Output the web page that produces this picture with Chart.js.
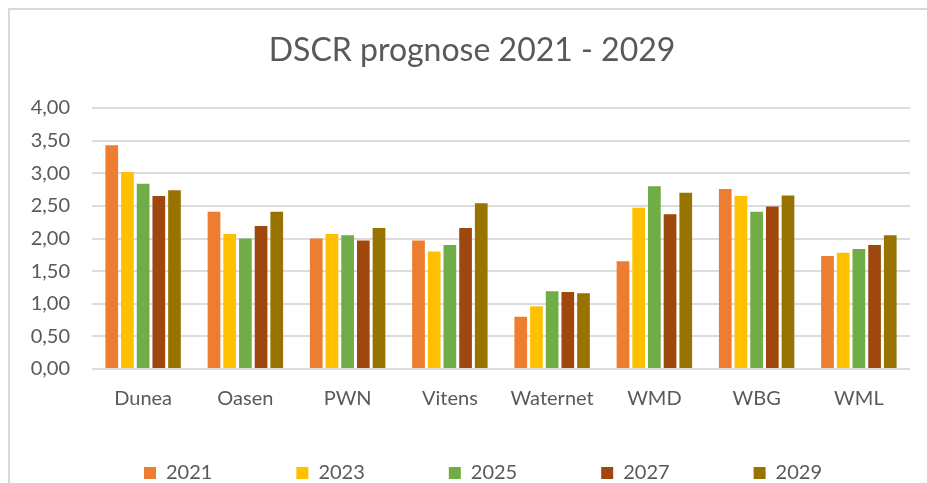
<!doctype html>
<html lang="nl">
  <head>
    <meta charset="utf-8">
    <title>DSCR prognose 2021 - 2029</title>
    <script src="https://cdn.jsdelivr.net/npm/chart.js"></script>
    <style>
      body { margin: 0; background: #fff; }
      #frame {
        position: absolute; left: 8px; top: 8px; width: 940px; height: 500px;
        border-left: 2px solid #d9d9d9; border-top: 2px solid #d9d9d9;
      }
      #wrap { position: absolute; left: 0; top: 0; width: 927px; height: 483px; }
    </style>
  </head>
  <body>
    <div id="frame"></div>
    <div id="wrap"><canvas id="chart"></canvas></div>

    <script>
      const categories = ['Dunea', 'Oasen', 'PWN', 'Vitens', 'Waternet', 'WMD', 'WBG', 'WML']
      const years = ['2021', '2023', '2025', '2027', '2029']
      const dscr2021 = [3.43, 2.41, 2.00, 1.97, 0.80, 1.65, 2.76, 1.73]
      const dscr2023 = [3.02, 2.07, 2.07, 1.80, 0.96, 2.47, 2.65, 1.78]
      const dscr2025 = [2.84, 2.00, 2.05, 1.90, 1.19, 2.80, 2.41, 1.84]
      const dscr2027 = [2.65, 2.19, 1.97, 2.16, 1.18, 2.37, 2.49, 1.90]
      const dscr2029 = [2.74, 2.41, 2.16, 2.54, 1.16, 2.70, 2.66, 2.05]
      const yTickLabels = ['0,00', '0,50', '1,00', '1,50', '2,00', '2,50', '3,00', '3,50', '4,00']

      const colors = ['#ED7D31', '#FFC000', '#70AD47', '#9E480E', '#997300']
      const series = [dscr2021, dscr2023, dscr2025, dscr2027, dscr2029]
      const textColor = '#595959'
      const fontFamily = 'Lato, "Open Sans", sans-serif'
      const legendGap = 84

      // move title / legend sideways and put legend row where Excel has it
      const placeBoxes = {
        id: 'placeBoxes',
        afterLayout(chart) {
          const t = chart.titleBlock
          if (t) { t.left += 17; t.right += 17 }
          const l = chart.legend
          l.left += 28
          l.right += 28
          l.top = 463 - legendGap
        },
      }

      new Chart(document.getElementById('chart'), {
        type: 'bar',
        data: {
          labels: categories,
          datasets: years.map((y, i) => ({
            label: y,
            data: series[i],
            backgroundColor: colors[i],
            borderWidth: 0,
            barPercentage: 0.81,
            categoryPercentage: 0.767,
          })),
        },
        options: {
          responsive: true,
          maintainAspectRatio: false,
          animation: false,
          layout: { padding: { left: 0, right: 17, top: 0, bottom: 0 } },
          scales: {
            x: {
              grid: { display: false, drawTicks: false },
              border: { display: false },
              ticks: { color: textColor, font: { family: fontFamily, size: 20 }, padding: 18 },
              afterFit: (s) => { s.height = 60 },
            },
            y: {
              min: 0,
              max: 4,
              ticks: {
                stepSize: 0.5,
                color: textColor,
                font: { family: fontFamily, size: 20 },
                padding: 22,
                callback: (v, i) => yTickLabels[i],
              },
              grid: { color: '#dcdcdc', lineWidth: 2, drawTicks: false },
              border: { display: false },
              afterFit: (s) => { s.width = 92 },
            },
          },
          plugins: {
            title: {
              display: true,
              text: 'DSCR prognose 2021 - 2029',
              color: textColor,
              font: { family: fontFamily, size: 32, weight: 'normal' },
              padding: { top: 31, bottom: 38.6 },
            },
            legend: {
              position: 'bottom',
              maxHeight: 54,
              labels: {
                color: textColor,
                font: { family: fontFamily, size: 20 },
                boxWidth: 12,
                boxHeight: 12,
                padding: legendGap,
              },
            },
            tooltip: { enabled: false },
          },
        },
        plugins: [placeBoxes],
      })
    </script>
  </body>
</html>
